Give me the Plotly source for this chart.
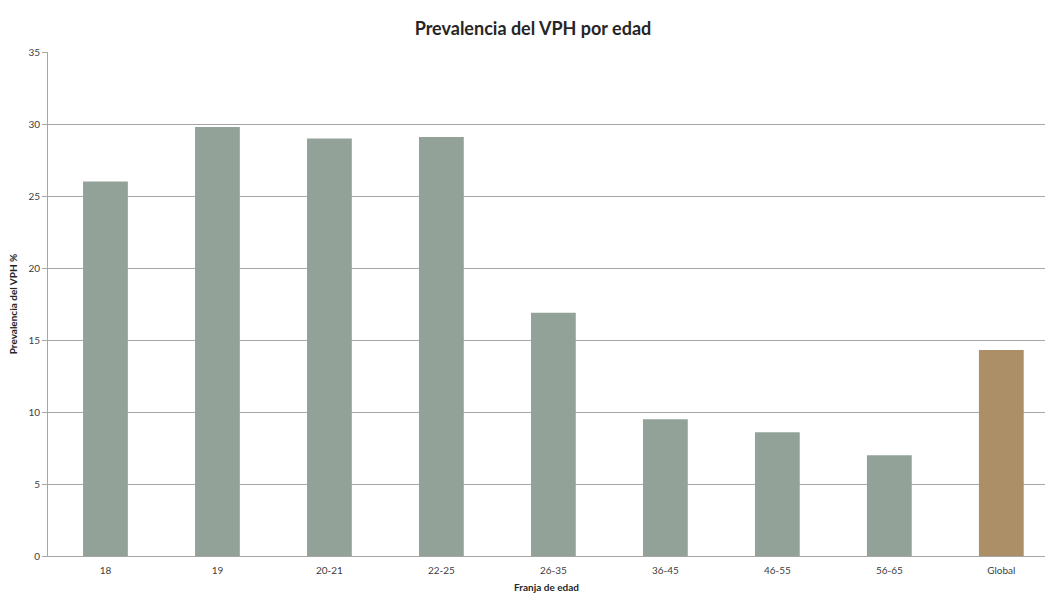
import plotly.graph_objects as go

categories = ["18", "19", "20-21", "22-25", "26-35", "36-45", "46-55", "56-65", "Global"]
values = [26.0, 29.8, 29.0, 29.1, 16.9, 9.5, 8.6, 7.0, 14.3]
colors = ["#93A299"] * 8 + ["#AD8F67"]

fig = go.Figure(go.Bar(x=categories, y=values, marker=dict(color=colors, line=dict(width=0)), width=0.40))

fig.update_layout(
    width=1045, height=594,
    margin=dict(l=48, r=0, t=52, b=38),
    paper_bgcolor="white", plot_bgcolor="white",
    font=dict(family="Lato, Open Sans, sans-serif", color="#404040", size=10),
    title=dict(text="<b>Prevalencia del VPH por edad</b>", x=0.51, xanchor="center", y=0.952, yanchor="middle",
               font=dict(size=18, color="#262626", family="Lato, sans-serif")),
    showlegend=False,
)
fig.update_yaxes(range=[0, 35], dtick=5, showgrid=True, gridcolor="#A6A6A6", gridwidth=1,
                 showline=True, linecolor="#A6A6A6", ticks="outside", tickcolor="#A6A6A6", ticklen=5,
                 tickfont=dict(size=10, color="#404040"),
                 title=dict(text="<b>Prevalencia del VPH %</b>", font=dict(size=10, color="#262626"), standoff=8),
                 zeroline=False)
fig.update_xaxes(range=[-0.513, 8.39], showline=True, linecolor="#A6A6A6", ticks="", ticklabelstandoff=5,
                 tickfont=dict(size=10, color="#404040"),
                 title=dict(text="<b>Franja de edad</b>", font=dict(size=10, color="#262626"), standoff=8))

fig.write_html("out.html")
